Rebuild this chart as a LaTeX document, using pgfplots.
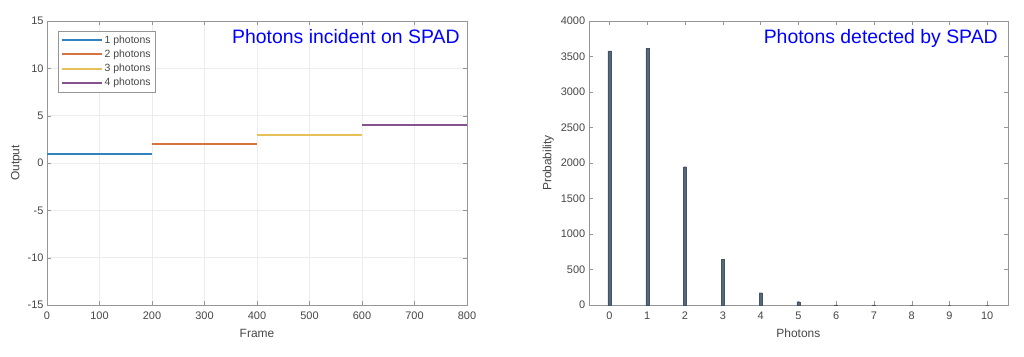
\documentclass[border=0pt]{standalone}
\usepackage{pgfplots}
\pgfplotsset{compat=1.18}
\usepackage{fontspec}
\setmainfont{Liberation Sans}
\definecolor{mblue}{RGB}{50,130,190}
\definecolor{morange}{RGB}{214,115,65}
\definecolor{myellow}{RGB}{232,192,90}
\definecolor{mpurple}{RGB}{135,80,145}
\definecolor{tickgray}{RGB}{70,70,70}
\definecolor{axgray}{RGB}{150,150,150}
\definecolor{bargray}{RGB}{85,105,125}
\pgfplotsset{
  common/.style={
    scale only axis,
    axis line style={axgray},
    tick style={axgray},
    tick align=inside,
    major tick length=4bp,
    ticklabel style={font=\fontsize{11}{12}\selectfont, text=tickgray},
    xticklabel style={yshift=-3bp},
    label style={font=\fontsize{12}{13}\selectfont, text=tickgray},
    /pgf/number format/assume math mode=true,
    /pgf/number format/1000 sep={},
    scaled ticks=false,
  }
}
\begin{document}
\begin{tikzpicture}[x=1bp,y=1bp]
\useasboundingbox (0,0) rectangle (1024,356);
% Left axis
\begin{axis}[common,
  at={(47bp,51bp)}, anchor=south west,
  width=420bp, height=284bp,
  xmin=0, xmax=800, ymin=-15, ymax=15,
  xtick={0,100,...,800}, ytick={-15,-10,...,15},
  grid=major, major grid style={gray!15},
  xlabel={Frame}, ylabel={Output},
  xlabel style={yshift=-3bp},
  ylabel style={yshift=-1bp},
  legend style={at={(0.026,0.965)}, anchor=north west, draw=axgray,
    font=\fontsize{10.5}{11}\selectfont, text=tickgray, row sep=1.2bp, inner sep=2.5bp},
  legend cell align=left,
  legend image code/.code={\draw[#1] (0bp,0bp) -- (40bp,0bp);},
]
\addplot[mblue, line width=2bp] coordinates {(0,1) (200,1)};
\addlegendentry{1 photons}
\addplot[morange, line width=2bp] coordinates {(200,2) (400,2)};
\addlegendentry{2 photons}
\addplot[myellow, line width=2bp] coordinates {(400,3) (600,3)};
\addlegendentry{3 photons}
\addplot[mpurple, line width=2bp] coordinates {(600,4) (800,4)};
\addlegendentry{4 photons}
\node[anchor=north east, text=blue, font=\fontsize{19.5}{21}\selectfont, inner sep=0pt] at (rel axis cs:0.983,0.972) {Photons incident on SPAD};
\end{axis}
% Right axis
\begin{axis}[common,
  at={(588.7bp,51bp)}, anchor=south west,
  width=419.3bp, height=284bp,
  xmin=-0.55, xmax=10.55, ymin=0, ymax=4000,
  xtick={0,1,...,10}, ytick={0,500,...,4000},
  xlabel={Photons}, ylabel={Probability},
  xlabel style={yshift=-3bp},
  ylabel style={yshift=0bp},
]
\addplot[ybar, bar width=3bp, fill=bargray, draw=bargray!80!black, line width=0.3bp] coordinates {
(0,3580) (1,3615) (2,1948) (3,643) (4,173) (5,46) (6,3) (7,1) (8,0) (9,0) (10,0)};
\node[anchor=north east, text=blue, font=\fontsize{19.5}{21}\selectfont, inner sep=0pt] at (rel axis cs:0.976,0.972) {Photons detected by SPAD};
\end{axis}
\end{tikzpicture}
\end{document}
